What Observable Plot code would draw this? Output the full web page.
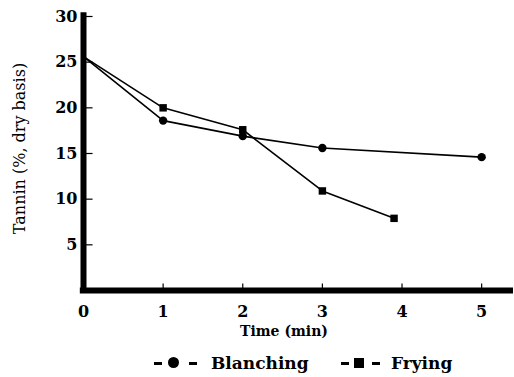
<!DOCTYPE html>
<html><head><meta charset="utf-8">
<script src="https://cdn.jsdelivr.net/npm/d3@7"></script>
<script src="https://cdn.jsdelivr.net/npm/@observablehq/plot@0.6"></script>
<style>
body{margin:0;background:#fff;}
#legend{position:relative;width:514px;height:37px;font-family:"DejaVu Serif",serif;font-weight:bold;font-size:17px;color:#000;}
#legend .txt{position:absolute;top:12px;line-height:22px;white-space:nowrap;}
#legend .dash{position:absolute;top:22px;width:8px;height:3px;background:#000;}
#legend .circ{position:absolute;top:17px;width:11px;height:11px;border-radius:50%;background:#000;}
#legend .sq{position:absolute;top:18px;width:10px;height:10px;background:#000;}
</style>
</head><body>
<div id="chart"></div>
<div id="legend">
  <div class="dash" style="left:154px"></div>
  <div class="circ" style="left:168px"></div>
  <div class="dash" style="left:189px"></div>
  <span class="txt" style="left:211px">Blanching</span>
  <div class="dash" style="left:341px"></div>
  <div class="sq" style="left:354px"></div>
  <div class="dash" style="left:372px"></div>
  <span class="txt" style="left:391px">Frying</span>
</div>
<script>
const blanchTime = [0, 1, 2, 3, 5];
const blanchTannin = [25.6, 18.6, 16.9, 15.6, 14.6];
const fryTime = [0, 1, 2, 3, 3.9];
const fryTannin = [25.6, 20.0, 17.6, 10.9, 7.9];
const xTicks = [0, 1, 2, 3, 4, 5];
const yTicks = [5, 10, 15, 20, 25, 30];

const blanch = blanchTime.map((t, i) => ({t, v: blanchTannin[i]}));
const fry = fryTime.map((t, i) => ({t, v: fryTannin[i]}));

const chart = Plot.plot({
  width: 514, height: 340,
  marginLeft: 83, marginRight: 1, marginTop: 16, marginBottom: 50,
  x: {domain: [0, 5.4]},
  y: {domain: [0, 30]},
  style: {fontFamily: "DejaVu Serif", fontWeight: "bold", fontSize: "16px", color: "#000", background: "#fff"},
  marks: [
    Plot.axisX(xTicks, {tickSize: 0, tickPadding: 15, label: null, fontSize: 16}),
    Plot.axisY(yTicks, {tickSize: 0, tickPadding: 6, label: null, fontSize: 16}),
    Plot.ruleY(yTicks, {x1: 0, x2: 0.12, stroke: "#000", strokeWidth: 1.2}),
    Plot.ruleX(xTicks.slice(1), {y1: 0, y2: 0.7, stroke: "#000", strokeWidth: 1.2}),
    Plot.line(blanch, {x: "t", y: "v", stroke: "#000", strokeWidth: 1.6}),
    Plot.line(fry, {x: "t", y: "v", stroke: "#000", strokeWidth: 1.6}),
    Plot.dot(blanch.slice(1), {x: "t", y: "v", symbol: "circle", r: 4.2, fill: "#000"}),
    Plot.dot(fry.slice(1), {x: "t", y: "v", symbol: "square", r: 4.2, fill: "#000"}),
    Plot.ruleX([0], {y1: -0.3, y2: 30.4, stroke: "#000", strokeWidth: 6}),
    Plot.ruleY([0], {x1: -0.04, x2: 5.4, stroke: "#000", strokeWidth: 6}),
    Plot.text(["Tannin (%, dry basis)"], {frameAnchor: "left", dx: -64, dy: -5, rotate: -90, textAnchor: "middle", lineAnchor: "middle", fontSize: 16, fontWeight: "normal"}),
    Plot.text(["Time (min)"], {frameAnchor: "bottom", dx: -14.5, dy: 41, textAnchor: "middle", lineAnchor: "middle", fontSize: 14, fontWeight: "bold"})
  ]
});
document.getElementById("chart").appendChild(chart);
</script>
</body></html>
